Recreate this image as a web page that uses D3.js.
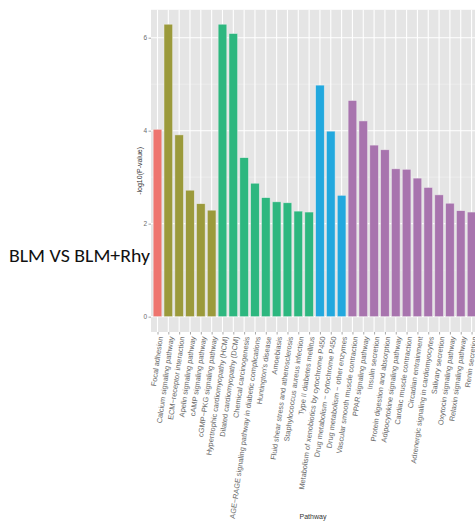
<!DOCTYPE html>
<html>
<head>
<meta charset="utf-8">
<script src="https://cdn.jsdelivr.net/npm/d3@7"></script>
<style>
  html, body { margin: 0; padding: 0; background: #ffffff; }
  svg { display: block; }
</style>
</head>
<body>
<svg id="chart" width="475" height="523"></svg>
<script>
const pathways = [
  "Focal adhesion",
  "Calcium signaling pathway",
  "ECM\u2212receptor interaction",
  "Apelin signaling pathway",
  "cAMP signaling pathway",
  "cGMP\u2212PKG signaling pathway",
  "Hypertrophic cardiomyopathy (HCM)",
  "Dilated cardiomyopathy (DCM)",
  "Chemical carcinogenesis",
  "AGE\u2212RAGE signaling pathway in diabetic complications",
  "Huntington's disease",
  "Amoebiasis",
  "Fluid shear stress and atherosclerosis",
  "Staphylococcus aureus infection",
  "Type II diabetes mellitus",
  "Metabolism of xenobiotics by cytochrome P450",
  "Drug metabolism \u2212 cytochrome P450",
  "Drug metabolism \u2212 other enzymes",
  "Vascular smooth muscle contraction",
  "PPAR signaling pathway",
  "Insulin secretion",
  "Protein digestion and absorption",
  "Adipocytokine signaling pathway",
  "Cardiac muscle contraction",
  "Circadian entrainment",
  "Adrenergic signaling in cardiomyocytes",
  "Salivary secretion",
  "Oxytocin signaling pathway",
  "Relaxin signaling pathway",
  "Renin secretion"
];
const logP = [
  4.03, 6.29, 3.91, 2.72, 2.43, 2.29,
  6.29, 6.09, 3.42, 2.87, 2.56, 2.47, 2.45, 2.27, 2.25,
  4.98, 3.99, 2.61,
  4.65, 4.21, 3.69, 3.59, 3.18, 3.17, 2.98, 2.78, 2.62, 2.44, 2.28, 2.25
];
const groups = [
  "A",
  "B","B","B","B","B",
  "C","C","C","C","C","C","C","C","C",
  "D","D","D",
  "E","E","E","E","E","E","E","E","E","E","E","E"
];
const groupNames = ["A","B","C","D","E"];
const groupColors = ["#EE756F","#9B9A3B","#2DB77F","#22A8DE","#A874AE"];
const yTicks = [0, 2, 4, 6];
const yMinor = [1, 3, 5];
const title = "BLM VS BLM+Rhy";
const yTitle = "-log10(P-value)";
const xTitle = "Pathway";

const svg = d3.select("#chart");
const panel = { left: 151, top: 9.8, right: 482, bottom: 332 };

const x = d3.scalePoint().domain(pathways).range([157.5, 157.5 + 29 * 10.83]);
const step = x.step();
const barW = step * 0.8;
const y = d3.scaleLinear().domain([-0.33, 6.6]).range([panel.bottom, panel.top]);
const color = d3.scaleOrdinal().domain(groupNames).range(groupColors);

// panel background
svg.append("rect")
  .attr("x", panel.left).attr("y", panel.top)
  .attr("width", panel.right - panel.left).attr("height", panel.bottom - panel.top)
  .attr("fill", "#E5E5E5");

// minor grid
svg.append("g").selectAll("line").data(yMinor).join("line")
  .attr("x1", panel.left).attr("x2", panel.right)
  .attr("y1", d => y(d)).attr("y2", d => y(d))
  .attr("stroke", "#F2F2F2").attr("stroke-width", 0.6);
// major grid
svg.append("g").selectAll("line").data(yTicks).join("line")
  .attr("x1", panel.left).attr("x2", panel.right)
  .attr("y1", d => y(d)).attr("y2", d => y(d))
  .attr("stroke", "#FFFFFF").attr("stroke-width", 1.1);
svg.append("g").selectAll("line").data(pathways).join("line")
  .attr("x1", d => x(d)).attr("x2", d => x(d))
  .attr("y1", panel.top).attr("y2", panel.bottom)
  .attr("stroke", "#FFFFFF").attr("stroke-width", 1.1);

// bars
svg.append("g").selectAll("rect").data(pathways).join("rect")
  .attr("x", d => x(d) - barW / 2)
  .attr("width", barW)
  .attr("y", (d, i) => y(logP[i]))
  .attr("height", (d, i) => y(0) - y(logP[i]))
  .attr("fill", (d, i) => color(groups[i]))
  .attr("stroke", "#F0F0F0").attr("stroke-opacity", 0.7).attr("stroke-width", 0.7);

// y axis
const yAxis = d3.axisLeft(y).tickValues(yTicks).tickSize(2.5).tickPadding(1.5).tickFormat(d3.format("d"));
const gy = svg.append("g").attr("transform", `translate(${panel.left},0)`).call(yAxis);
gy.select(".domain").remove();
gy.selectAll(".tick line").attr("stroke", "#6b6b6b").attr("stroke-width", 0.6);
gy.selectAll(".tick text").attr("fill", "#6b6b6b").attr("font-size", 6.5)
  .attr("font-family", "Liberation Sans, Arial, sans-serif");

// x axis
const xAxis = d3.axisBottom(x).tickSize(2.5).tickPadding(2);
const gx = svg.append("g").attr("transform", `translate(0,${panel.bottom})`).call(xAxis);
gx.select(".domain").remove();
gx.selectAll(".tick line").attr("stroke", "#6b6b6b").attr("stroke-width", 0.6);
gx.selectAll(".tick text")
  .attr("fill", "#6a6a6a")
  .attr("font-size", 7.4)
  .attr("font-family", "Liberation Sans, Arial, sans-serif")
  .attr("text-anchor", "end")
  .attr("dy", null)
  .attr("dominant-baseline", "central")
  .attr("transform", "translate(2.5,4.5) rotate(-82)")
  .attr("x", 0).attr("y", 0);

// axis titles
svg.append("text")
  .attr("transform", `translate(139,${(panel.top + panel.bottom) / 2}) rotate(-90)`)
  .attr("text-anchor", "middle").attr("dominant-baseline", "central")
  .attr("font-size", 7).attr("fill", "#333333")
  .attr("font-family", "Liberation Sans, Arial, sans-serif")
  .text(yTitle);

svg.append("text")
  .attr("x", 313).attr("y", 519)
  .attr("text-anchor", "middle")
  .attr("font-size", 7).attr("fill", "#333333")
  .attr("font-family", "Liberation Sans, Arial, sans-serif")
  .text(xTitle);

// overlay label
svg.append("text")
  .attr("x", 9).attr("y", 261.5)
  .attr("font-size", 18).attr("fill", "#111111")
  .attr("font-family", "Carlito, Lato, 'Open Sans', sans-serif")
  .attr("textLength", 141).attr("lengthAdjust", "spacingAndGlyphs")
  .text(title);
</script>
</body>
</html>
